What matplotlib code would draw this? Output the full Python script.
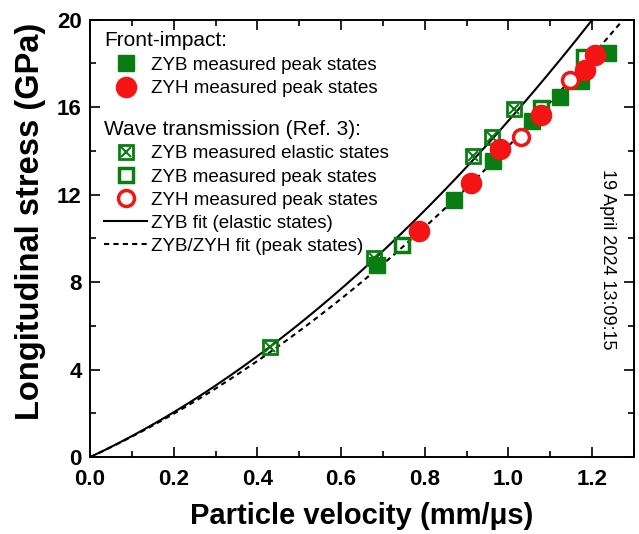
import numpy as np
import matplotlib
matplotlib.use("Agg")
import matplotlib.pyplot as plt
from matplotlib.lines import Line2D
from matplotlib.legend_handler import HandlerTuple

plt.rcParams["font.family"] = ["Liberation Sans", "DejaVu Sans"]

# front-impact data
fi_zyb_u = [0.686, 0.869, 0.964, 1.057, 1.123, 1.174, 1.238]
fi_zyb_s = [8.80, 11.76, 13.55, 15.35, 16.46, 17.20, 18.50]
fi_zyh_u = [0.787, 0.910, 0.979, 1.077, 1.184, 1.207]
fi_zyh_s = [10.36, 12.55, 14.08, 15.65, 17.70, 18.40]

# wave transmission (Ref. 3)
wt_el_u = [0.429, 0.679, 0.915, 0.960, 1.014]
wt_el_s = [5.05, 9.10, 13.78, 14.63, 15.90]
wt_zyb_u = [0.745, 1.077, 1.180]
wt_zyb_s = [9.69, 15.95, 18.30]
wt_zyh_u = [1.029, 1.147]
wt_zyh_s = [14.63, 17.25]

# fits: stress = a*u + b*u^2
fit_el = (8.99, 6.39)
fit_pk = (8.84, 5.38)

green = "#0a7d12"
red = "#f41414"

fig = plt.figure(figsize=(6.39, 5.34), dpi=100)
ax = fig.add_axes([0.141, 0.144, 0.851, 0.819])

u = np.linspace(0, 1.3, 300)
ax.plot(u, fit_el[0]*u + fit_el[1]*u**2, color="k", lw=1.5)
ax.plot(u, fit_pk[0]*u + fit_pk[1]*u**2, color="k", lw=1.5, ls=(0, (2.5, 2)))

ax.plot(wt_el_u, wt_el_s, ls="none", marker="s", ms=10.5, mfc="none", mec=green, mew=2)
ax.plot(wt_el_u, wt_el_s, ls="none", marker="x", ms=7, mec=green, mew=1.5)
ax.plot(wt_zyb_u, wt_zyb_s, ls="none", marker="s", ms=10.5, mfc="none", mec=green, mew=2.5)
ax.plot(fi_zyb_u, fi_zyb_s, ls="none", marker="s", ms=12, color=green)
ax.plot(wt_zyh_u, wt_zyh_s, ls="none", marker="o", ms=11.5, mfc="white", mec=red, mew=2.5)
ax.plot(fi_zyh_u, fi_zyh_s, ls="none", marker="o", ms=14.5, color=red)

ax.set_xlim(0, 1.3)
ax.set_ylim(0, 20)
ax.set_xticks(np.arange(0, 1.21, 0.2))
ax.set_xticks(np.arange(0, 1.31, 0.1), minor=True)
ax.set_yticks(np.arange(0, 21, 4))
ax.set_yticks(np.arange(0, 21, 2), minor=True)
ax.xaxis.set_major_formatter(plt.FuncFormatter(lambda v, p: f"{v:.1f}"))
ax.tick_params(which="both", direction="in", top=True, right=True, width=1.2)
ax.tick_params(which="major", length=7, labelsize=16)
ax.tick_params(which="minor", length=4)
ax.tick_params(axis="x", pad=8.5)
ax.tick_params(axis="y", pad=6)
for lab in ax.get_xticklabels() + ax.get_yticklabels():
    lab.set_fontweight("bold")
for sp in ax.spines.values():
    sp.set_linewidth(1.4)

ax.set_xlabel("Particle velocity (mm/\u03bcs)", fontsize=21, fontweight="bold", labelpad=9)
ax.set_ylabel("Longitudinal stress (GPa)", fontsize=23.5, fontweight="bold")
ax.yaxis.set_label_coords(-0.081, 0.538)

h_fi_zyb = Line2D([], [], ls="none", marker="s", ms=12, color=green)
h_fi_zyh = Line2D([], [], ls="none", marker="o", ms=14.5, color=red)
h_el = (Line2D([], [], ls="none", marker="s", ms=10.5, mfc="none", mec=green, mew=2),
        Line2D([], [], ls="none", marker="x", ms=7, mec=green, mew=1.5))
h_wt_zyb = Line2D([], [], ls="none", marker="s", ms=10.5, mfc="none", mec=green, mew=2.5)
h_wt_zyh = Line2D([], [], ls="none", marker="o", ms=11.5, mfc="white", mec=red, mew=2.5)
h_fit_el = Line2D([], [], color="k", lw=1.5)
h_fit_pk = Line2D([], [], color="k", lw=1.5, ls=(0, (2.5, 2)))

leg1 = ax.legend([h_fi_zyb, h_fi_zyh],
                 ["ZYB measured peak states", "ZYH measured peak states"],
                 title="Front-impact:", title_fontsize=15, fontsize=13.5,
                 loc="upper left", bbox_to_anchor=(0.026, 0.975), frameon=False,
                 borderpad=0, borderaxespad=0, handlelength=2.3, handletextpad=0.2,
                 labelspacing=0.36, alignment="left")
ax.add_artist(leg1)
ax.legend([h_el, h_wt_zyb, h_wt_zyh, h_fit_el, h_fit_pk],
          ["ZYB measured elastic states", "ZYB measured peak states",
           "ZYH measured peak states", "ZYB fit (elastic states)",
           "ZYB/ZYH fit (peak states)"],
          handler_map={tuple: HandlerTuple(ndivide=1, pad=0)},
          title="Wave transmission (Ref. 3):", title_fontsize=15, fontsize=13.5,
          loc="upper left", bbox_to_anchor=(0.026, 0.770), frameon=False,
          borderpad=0, borderaxespad=0, handlelength=2.3, handletextpad=0.2,
          labelspacing=0.32, alignment="left")

fig.text(0.95, 0.515, "19 April 2024 13:09:15", rotation=270, fontsize=13,
         ha="center", va="center")

fig.savefig("out.png", dpi=100)
